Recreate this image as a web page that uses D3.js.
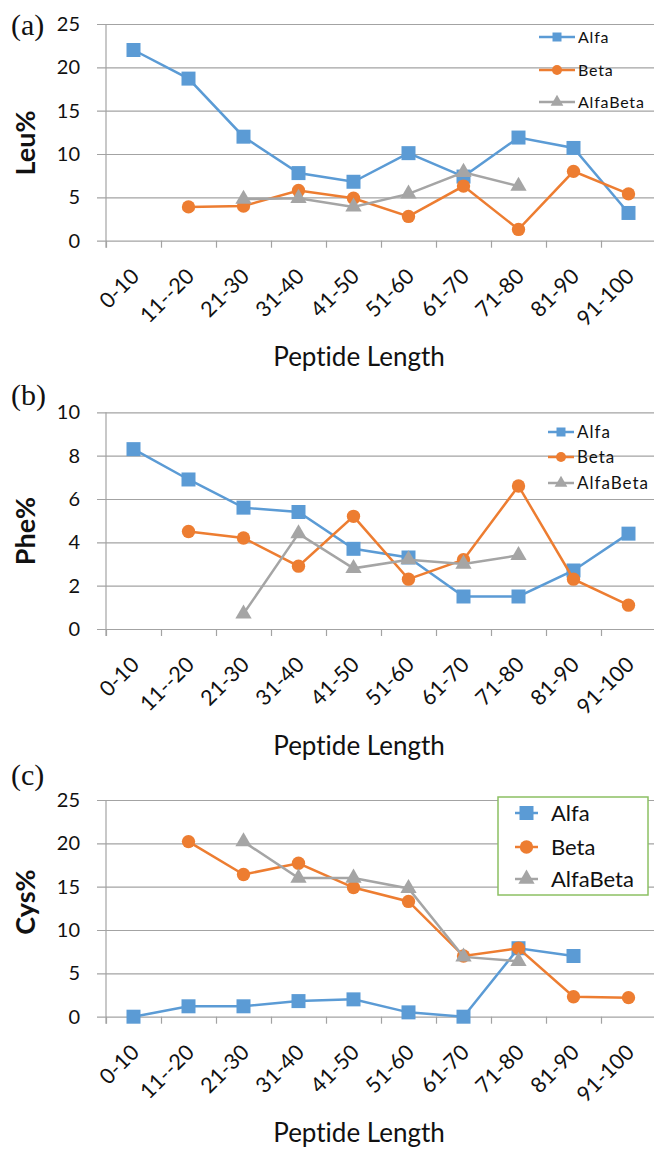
<!DOCTYPE html>
<html>
<head>
<meta charset="utf-8">
<script src="https://cdn.jsdelivr.net/npm/d3@7"></script>
<style>
body{margin:0;background:#fff}
svg{display:block}
text{font-variant-ligatures:none;font-feature-settings:"liga" 0}
</style>
</head>
<body>
<div id="chart"></div>
<script>
// categories and values
var categories = ["0-10","11--20","21-30","31-40","41-50","51-60","61-70","71-80","81-90","91-100"];
var seriesNames = ["Alfa","Beta","AlfaBeta"];

var leuTicks = [0,5,10,15,20,25];
var leuAlfa = [22.0, 18.7, 12.0, 7.8, 6.8, 10.1, 7.4, 11.9, 10.7, 3.2];
var leuBeta = [null, 3.9, 4.0, 5.8, 4.9, 2.8, 6.3, 1.3, 8.0, 5.4];
var leuAlfaBeta = [null, null, 4.8, 4.9, 3.9, 5.4, 7.9, 6.3, null, null];

var pheTicks = [0,2,4,6,8,10];
var pheAlfa = [8.3, 6.9, 5.6, 5.4, 3.7, 3.3, 1.5, 1.5, 2.7, 4.4];
var pheBeta = [null, 4.5, 4.2, 2.9, 5.2, 2.3, 3.2, 6.6, 2.3, 1.1];
var pheAlfaBeta = [null, null, 0.7, 4.4, 2.8, 3.2, 3.0, 3.4, null, null];

var cysTicks = [0,5,10,15,20,25];
var cysAlfa = [0, 1.2, 1.2, 1.8, 2.0, 0.5, 0, 7.9, 7.0, null];
var cysBeta = [null, 20.2, 16.4, 17.7, 14.9, 13.3, 7.0, 7.9, 2.3, 2.2];
var cysAlfaBeta = [null, null, 20.2, 16.0, 16.0, 14.8, 6.9, 6.4, null, null];

var colors = ["#5b9bd5","#ed7d31","#a5a5a5"];
var symbols = [d3.symbolSquare, d3.symbolCircle, d3.symbolTriangle];
var markerSize = [196, 140, 115];
var font = "Lato, 'Open Sans', sans-serif";

var width = 654, height = 1149;
var left = 106, right = 656;

var svg = d3.select("#chart").append("svg")
    .attr("width", width).attr("height", height);

var x = d3.scaleBand().domain(categories).range([left, right]);
var xEdge = d3.scaleLinear().domain([0, categories.length]).range([left, right]);
function cx(i){ return x(categories[i]) + x.bandwidth()/2; }

var panels = [
  {tag:"(a)", title:"Leu%", ticks:leuTicks, data:[leuAlfa, leuBeta, leuAlfaBeta],
   top:24, bottom:240.7, tagY:35, titleY:143,
   legend:{x1:539, x2:575, tx:578, ys:[37,70,102], fs:16, ls:0.8, ms:[81,78,70], box:null}},
  {tag:"(b)", title:"Phe%", ticks:pheTicks, data:[pheAlfa, pheBeta, pheAlfaBeta],
   top:412.3, bottom:629, tagY:405, titleY:531,
   legend:{x1:548, x2:574, tx:577, ys:[432,457,483], fs:17, ls:1, ms:[81,78,70], box:null}},
  {tag:"(c)", title:"Cys%", ticks:cysTicks, data:[cysAlfa, cysBeta, cysAlfaBeta],
   top:800, bottom:1016.7, tagY:785, titleY:902,
   legend:{x1:515, x2:538, tx:551, ys:[813,847,879], fs:22, ls:0, ms:[196,140,115],
           box:{x:498, y:797, w:150, h:98}}}
];

panels.forEach(function(p){
  var y = d3.scaleLinear().domain([0, d3.max(p.ticks)]).range([p.bottom, p.top]);
  var g = svg.append("g");

  // gridlines + y tick labels
  g.append("g").attr("transform", "translate(97,0)")
    .call(d3.axisLeft(y).tickValues(p.ticks).tickSize(-(width - 97)).tickPadding(17))
    .call(function(a){ a.select(".domain").remove(); })
    .call(function(a){ a.selectAll("line").attr("stroke","#a3a3a3").attr("stroke-width",1.2); })
    .call(function(a){ a.selectAll("text").attr("font-family",font).attr("font-size",20).attr("fill","#111"); });

  // y axis line
  g.append("line").attr("x1",left).attr("x2",left).attr("y1",p.top).attr("y2",p.bottom+7)
    .attr("stroke","#a3a3a3").attr("stroke-width",1.2);

  // x tick marks at band edges
  g.append("g").attr("transform","translate(0," + p.bottom + ")")
    .call(d3.axisBottom(xEdge).tickValues(d3.range(categories.length + 1)).tickSize(7).tickSizeOuter(0).tickFormat(""))
    .call(function(a){ a.select(".domain").remove(); })
    .call(function(a){ a.selectAll("line").attr("stroke","#a3a3a3").attr("stroke-width",1.2); });

  // x tick labels
  g.append("g").attr("transform","translate(0," + p.bottom + ")")
    .call(d3.axisBottom(x).tickSize(0))
    .call(function(a){ a.select(".domain").remove(); })
    .selectAll("text")
      .attr("y",0).attr("dy",0)
      .attr("transform","translate(7,37) rotate(-45)")
      .style("text-anchor","end")
      .attr("font-family",font).attr("font-size",21.5).attr("fill","#111");

  // axis titles
  g.append("text").attr("transform","translate(35," + p.titleY + ") rotate(-90)")
    .attr("text-anchor","middle").attr("font-family",font).attr("font-size",27)
    .attr("font-weight",700).attr("fill","#111").text(p.title);
  g.append("text").attr("x",359).attr("y",p.bottom + 125.5)
    .attr("text-anchor","middle").attr("font-family",font).attr("font-size",26)
    .attr("fill","#111").text("Peptide Length");
  g.append("text").attr("x",11).attr("y",p.tagY)
    .attr("font-family","'Liberation Serif', 'Times New Roman', serif").attr("font-size",30)
    .attr("fill","#111").text(p.tag);

  // series: line then markers, in order
  var line = d3.line().defined(function(d){ return d != null; })
    .x(function(d,i){ return cx(i); }).y(function(d){ return y(d); });
  p.data.forEach(function(vals, s){
    g.append("path").datum(vals).attr("d", line)
      .attr("fill","none").attr("stroke",colors[s]).attr("stroke-width",2.5);
    g.selectAll(null).data(vals.map(function(v,i){ return {v:v, i:i}; }).filter(function(d){ return d.v != null; }))
      .enter().append("path")
      .attr("d", d3.symbol().type(symbols[s]).size(markerSize[s]))
      .attr("transform", function(d){ return "translate(" + cx(d.i) + "," + y(d.v) + ")"; })
      .attr("fill", colors[s]);
  });

  // legend
  var L = p.legend;
  if (L.box) {
    g.append("rect").attr("x",L.box.x).attr("y",L.box.y).attr("width",L.box.w).attr("height",L.box.h)
      .attr("fill","#fff").attr("stroke","#8cc063").attr("stroke-width",1.5);
  }
  seriesNames.forEach(function(name, s){
    var ly = L.ys[s];
    g.append("line").attr("x1",L.x1).attr("x2",L.x2).attr("y1",ly).attr("y2",ly)
      .attr("stroke",colors[s]).attr("stroke-width",2.5);
    g.append("path").attr("d", d3.symbol().type(symbols[s]).size(L.ms[s]))
      .attr("transform","translate(" + (L.x1 + L.x2)/2 + "," + ly + ")").attr("fill",colors[s]);
    g.append("text").attr("x",L.tx).attr("y",ly).attr("dy","0.36em")
      .attr("font-family",font).attr("font-size",L.fs).attr("letter-spacing",L.ls)
      .attr("fill","#111").text(name);
  });
});
</script>
</body>
</html>
